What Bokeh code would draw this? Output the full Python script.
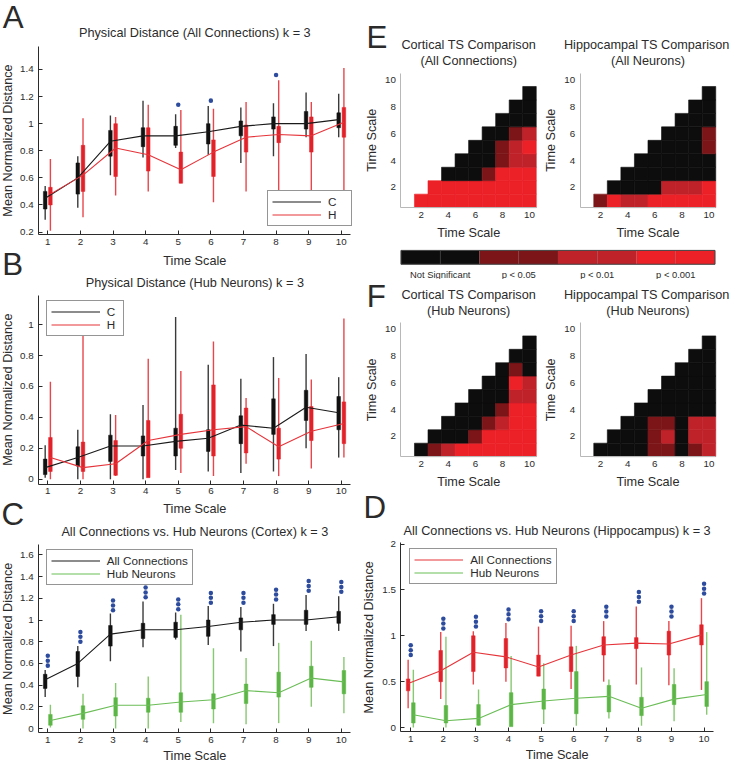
import math
from bokeh.plotting import figure
from bokeh.models import Range1d, FixedTicker, Label, Legend, LegendItem
from bokeh.layouts import row, column
from bokeh.embed import file_html
from bokeh.resources import INLINE
from bokeh.core.properties import value

# ---------------- data ----------------
time_scale = [1, 2, 3, 4, 5, 6, 7, 8, 9, 10]
time_labels = ["1", "2", "3", "4", "5", "6", "7", "8", "9", "10"]

# Physical distance, all connections, cortex (C)
ctx_all_lo = [0.29, 0.38, 0.62, 0.75, 0.82, 0.77, 0.71, 0.76, 0.90, 0.90]
ctx_all_q1 = [0.37, 0.48, 0.76, 0.83, 0.84, 0.85, 0.91, 0.96, 0.96, 0.97]
ctx_all_med = [0.45, 0.60, 0.87, 0.91, 0.91, 0.94, 0.98, 1.00, 1.00, 1.03]
ctx_all_q3 = [0.50, 0.71, 0.95, 0.97, 0.98, 1.00, 1.02, 1.05, 1.09, 1.08]
ctx_all_hi = [0.54, 0.76, 1.06, 1.17, 1.07, 1.13, 1.12, 1.15, 1.23, 1.22]

# Physical distance, all connections, hippocampus (H)
hip_all_lo = [0.21, 0.31, 0.47, 0.50, 0.56, 0.42, 0.50, 0.47, 0.46, 0.41]
hip_all_q1 = [0.40, 0.50, 0.61, 0.65, 0.56, 0.61, 0.79, 0.86, 0.79, 0.90]
hip_all_med = [0.48, 0.62, 0.82, 0.77, 0.66, 0.79, 0.90, 0.92, 0.91, 1.01]
hip_all_q3 = [0.53, 0.84, 1.00, 0.97, 0.79, 0.88, 0.99, 0.98, 1.05, 1.12]
hip_all_hi = [0.74, 1.04, 1.05, 1.14, 1.10, 1.11, 1.16, 1.32, 1.16, 1.41]

# Physical distance, hub neurons, cortex (C)
ctx_hub_lo = [0.01, 0.00, 0.00, 0.00, 0.06, 0.05, 0.04, 0.05, 0.20, 0.14]
ctx_hub_q1 = [0.03, 0.085, 0.115, 0.15, 0.15, 0.18, 0.23, 0.29, 0.38, 0.32]
ctx_hub_med = [0.075, 0.14, 0.215, 0.215, 0.245, 0.265, 0.35, 0.33, 0.465, 0.43]
ctx_hub_q3 = [0.13, 0.21, 0.285, 0.28, 0.33, 0.32, 0.41, 0.52, 0.575, 0.535]
ctx_hub_hi = [0.22, 0.32, 0.42, 0.48, 1.05, 0.74, 0.65, 0.79, 0.81, 0.66]

# Physical distance, hub neurons, hippocampus (H)
hip_hub_lo = [0.00, 0.00, 0.02, 0.02, 0.04, 0.02, 0.10, 0.02, 0.07, 0.14]
hip_hub_q1 = [0.05, 0.05, 0.025, 0.01, 0.20, 0.15, 0.17, 0.13, 0.25, 0.23]
hip_hub_med = [0.14, 0.075, 0.10, 0.25, 0.29, 0.32, 0.34, 0.21, 0.31, 0.36]
hip_hub_q3 = [0.27, 0.24, 0.25, 0.38, 0.42, 0.61, 0.46, 0.33, 0.47, 0.50]
hip_hub_hi = [0.63, 0.99, 0.415, 0.78, 0.70, 0.89, 0.525, 0.655, 0.645, 1.04]

# significance markers
A_sig_x = [5, 6, 8]
A_sig_y = [1.14, 1.17, 1.36]
C_sig_base = [0.58, 0.80, 1.09, 1.21, 1.10, 1.16, 1.16, 1.19, 1.27, 1.26]
D_sig_base = [0.79, 1.08, 1.10, 1.18, 1.16, 1.16, 1.21, 1.37, 1.21, 1.46]

# y ticks
A_yticks = [0.2, 0.4, 0.6, 0.8, 1, 1.2, 1.4]
A_ylabels = ["0.2", "0.4", "0.6", "0.8", "1", "1.2", "1.4"]
B_yticks = [0, 0.2, 0.4, 0.6, 0.8, 1]
B_ylabels = ["0", "0.2", "0.4", "0.6", "0.8", "1"]
C_yticks = [0, 0.2, 0.4, 0.6, 0.8, 1, 1.2, 1.4, 1.6]
C_ylabels = ["0", "0.2", "0.4", "0.6", "0.8", "1", "1.2", "1.4", "1.6"]
D_yticks = [0, 0.5, 1, 1.5, 2]
D_ylabels = ["0", "0.5", "1", "1.5", "2"]
heat_ticks = [2, 4, 6, 8, 10]
heat_labels = ["2", "4", "6", "8", "10"]

# significance levels (0 = n.s., 1 = p<0.05, 2 = p<0.01, 3 = p<0.001)
# one list per column (time scale 2..10), rows = time scale 1..column-1
E_cortical_all = [[3], [3, 3], [3, 3, 0], [3, 3, 0, 0], [3, 3, 0, 0, 0],
                  [3, 3, 1, 0, 0, 0], [3, 3, 3, 1, 1, 0, 0],
                  [3, 3, 3, 2, 2, 1, 0, 0], [3, 3, 3, 2, 3, 2, 0, 0, 0]]
E_hippo_all = [[1], [3, 0], [2, 0, 0], [2, 0, 0, 0], [3, 0, 0, 0, 0],
               [3, 2, 0, 0, 0, 0], [3, 2, 0, 0, 0, 0, 0],
               [3, 2, 0, 0, 0, 0, 0, 0], [3, 3, 0, 0, 1, 1, 0, 0, 0]]
F_cortical_hub = [[0], [1, 0], [2, 0, 0], [3, 0, 0, 0], [3, 1, 0, 0, 0],
                  [3, 3, 1, 0, 0, 0], [3, 3, 2, 1, 0, 0, 0],
                  [3, 3, 3, 3, 2, 3, 1, 0], [3, 3, 3, 3, 2, 2, 0, 0, 0]]
F_hippo_hub = [[0], [0, 0], [0, 0, 0], [0, 0, 0, 0], [1, 1, 1, 0, 0],
               [1, 2, 1, 0, 0, 0], [0, 0, 0, 0, 0, 0, 0],
               [1, 2, 2, 0, 0, 0, 0, 0], [2, 2, 2, 0, 0, 0, 0, 0, 0]]
sig_labels = ["Not Significant", "p < 0.05", "p < 0.01", "p < 0.001"]
sig_colors = ["#0d0d0d", "#7b1518", "#c0222a", "#ec2027"]

# ---------------- style ----------------
s = 0.979
def S(v):
    return v * s
def SI(v):
    return int(round(v * s))
def px(v):
    return "%.1fpx" % S(v)

FONT = "Liberation Sans"
INK = "#2b2b2b"
BLUE = "#2e4c9e"
BLACK_BOX, BLACK_WH, BLACK_LN = "#111111", "#3a3a3a", "#1a1a1a"
RED_BOX, RED_WH, RED_LN = "#e2222a", "#e8464c", "#e5343a"
GRN_BOX, GRN_WH, GRN_LN = "#5cb646", "#86c970", "#6bbd57"
OFF = 0.08
BOX_W = 0.11
LETTER = 32


def make_fig(W, H, frame, xr, yr, axes=True):
    """Canvas W x H (reference px); the plotting area of the reference is
    frame = (left, right, top, bottom) px, spanning data xr / yr.  The Bokeh
    frame fills the whole canvas and the axes are pinned at the data edges."""
    fl, fr, ft, fb = frame
    kx = (xr[1] - xr[0]) / (fr - fl)
    ky = (yr[1] - yr[0]) / (fb - ft)
    x0, x1 = xr[0] - fl * kx, xr[1] + (W - fr) * kx
    y0, y1 = yr[0] - (H - fb) * ky, yr[1] + ft * ky
    kw = dict(width=SI(W), height=SI(H), x_range=Range1d(x0, x1), y_range=Range1d(y0, y1),
              min_border=0, toolbar_location=None, output_backend="svg", title=None)
    if not axes:
        kw.update(x_axis_location=None, y_axis_location=None)
    p = figure(**kw)
    p.outline_line_color = None
    p.background_fill_color = "white"
    p.border_fill_color = "white"
    p.grid.visible = False
    if axes:
        p.xaxis.fixed_location = yr[0]
        p.xaxis.bounds = (min(xr), max(xr))
        p.yaxis.fixed_location = xr[0]
        p.yaxis.bounds = (min(yr), max(yr))
    return p


def txt(p, x, y, t, size, angle=0.0):
    p.add_layout(Label(x=S(x), y=S(y), x_units="canvas", y_units="canvas", text=t,
                       text_font=FONT, text_font_size=px(size), text_color=INK,
                       text_align="center", text_baseline="middle", angle=angle))


def style_axes(p, xticks, xlabels, yticks, ylabels, line_color, tick_in, lsize):
    p.xaxis.ticker = FixedTicker(ticks=xticks)
    p.xaxis.major_label_overrides = dict(zip(xticks, xlabels))
    p.yaxis.ticker = FixedTicker(ticks=yticks)
    p.yaxis.major_label_overrides = dict(zip(yticks, ylabels))
    for ax in list(p.xaxis) + list(p.yaxis):
        ax.axis_line_color = line_color
        ax.axis_line_width = 1
        ax.major_tick_line_color = line_color if tick_in else None
        ax.major_tick_in = tick_in
        ax.major_tick_out = 0
        ax.minor_tick_line_color = None
        ax.major_label_text_font = FONT
        ax.major_label_text_font_size = px(lsize)
        ax.major_label_text_color = INK
    p.xaxis.major_label_standoff = SI(4)
    p.yaxis.major_label_standoff = SI(5)


def boxes(p, lo, q1, q3, hi, off, box_c, wh_c):
    xs = [t + off for t in time_scale]
    p.segment(x0=xs, y0=lo, x1=xs, y1=hi, line_color=wh_c, line_width=1.4)
    p.vbar(x=xs, bottom=q1, top=q3, width=BOX_W, fill_color=box_c, line_color=box_c, line_width=0.5)


def med_line(p, med, off, color):
    xs = [t + off for t in time_scale]
    return p.line(xs, med, line_color=color, line_width=1.1)


def add_legend(p, entries, lw, loc):
    items = [LegendItem(label=value(t), renderers=[r]) for t, r in entries]
    leg = Legend(items=items, location=(S(loc[0]), S(loc[1])), padding=SI(4), spacing=0,
                 glyph_width=SI(50), glyph_height=SI(13), label_height=SI(13),
                 label_width=SI(lw), label_standoff=SI(7), label_text_font=FONT,
                 label_text_font_size=px(12), label_text_color=INK,
                 border_line_color=INK, border_line_width=1,
                 background_fill_color="white", background_fill_alpha=1.0)
    p.add_layout(leg)


def sig_triples(p, base, yr, frame):
    step = 5.0 * (yr[1] - yr[0]) / (frame[3] - frame[2])
    for k in range(3):
        p.scatter(time_scale, [b + k * step for b in base], size=S(4.6),
                  fill_color=BLUE, line_color=None)


BOX_XR = (0.72, 10.29)

# ---------------- panel A ----------------
A_fr, A_yr = (39, 358, 47, 239), (0.180, 1.569)
pA = make_fig(370, 252, A_fr, BOX_XR, A_yr)
style_axes(pA, time_scale, time_labels, A_yticks, A_ylabels, INK, 4, 10)
boxes(pA, ctx_all_lo, ctx_all_q1, ctx_all_q3, ctx_all_hi, -OFF, BLACK_BOX, BLACK_WH)
boxes(pA, hip_all_lo, hip_all_q1, hip_all_q3, hip_all_hi, OFF, RED_BOX, RED_WH)
rA1 = med_line(pA, ctx_all_med, -OFF, BLACK_LN)
rA2 = med_line(pA, hip_all_med, OFF, RED_LN)
pA.scatter(A_sig_x, A_sig_y, size=S(4.6), fill_color=BLUE, line_color=None)
add_legend(pA, [("C", rA1), ("H", rA2)], 19, (272.7, 21.3))
txt(pA, 13, 17.5, "A", LETTER)
txt(pA, 198.5, 33, "Physical Distance (All Connections) k = 3", 13)
txt(pA, 7.5, 143, "Mean Normalized Distance", 13, math.pi / 2)

# ---------------- panel B ----------------
B_fr, B_yr = (39, 358, 48.7, 241.7), (-0.034, 1.19)
pB = make_fig(370, 255, B_fr, BOX_XR, B_yr)
style_axes(pB, time_scale, time_labels, B_yticks, B_ylabels, INK, 4, 10)
boxes(pB, ctx_hub_lo, ctx_hub_q1, ctx_hub_q3, ctx_hub_hi, -OFF, BLACK_BOX, BLACK_WH)
boxes(pB, hip_hub_lo, hip_hub_q1, hip_hub_q3, hip_hub_hi, OFF, RED_BOX, RED_WH)
rB1 = med_line(pB, ctx_hub_med, -OFF, BLACK_LN)
rB2 = med_line(pB, hip_hub_med, OFF, RED_LN)
add_legend(pB, [("C", rB1), ("H", rB2)], 12, (46.7, 164.3))
txt(pB, 198.5, 13.5, "Time Scale", 13)          # x label of panel A
txt(pB, 12.5, 17.5, "B", LETTER)
txt(pB, 198.5, 36.3, "Physical Distance (Hub Neurons) k = 3", 13)
txt(pB, 7.5, 145.2, "Mean Normalized Distance", 13, math.pi / 2)

# ---------------- panel C ----------------
C_fr, C_yr = (39, 358, 48, 240.7), (-0.040, 1.697)
pC = make_fig(370, 272, C_fr, BOX_XR, C_yr)
style_axes(pC, time_scale, time_labels, C_yticks, C_ylabels, INK, 4, 10)
boxes(pC, ctx_all_lo, ctx_all_q1, ctx_all_q3, ctx_all_hi, -OFF, BLACK_BOX, BLACK_WH)
boxes(pC, ctx_hub_lo, ctx_hub_q1, ctx_hub_q3, ctx_hub_hi, OFF, GRN_BOX, GRN_WH)
rC1 = med_line(pC, ctx_all_med, -OFF, BLACK_LN)
rC2 = med_line(pC, ctx_hub_med, OFF, GRN_LN)
sig_triples(pC, C_sig_base, C_yr, C_fr)
add_legend(pC, [("All Connections", rC1), ("Hub Neurons", rC2)], 12, (46.7, 181.7))
txt(pC, 198.5, 11.3, "Time Scale", 13)          # x label of panel B
txt(pC, 12.5, 17.5, "C", LETTER)
txt(pC, 198.5, 35.7, "All Connections vs. Hub Neurons (Cortex) k = 3", 13)
txt(pC, 7.5, 144.3, "Mean Normalized Distance", 13, math.pi / 2)
txt(pC, 198.5, 264, "Time Scale", 13)

# ---------------- heatmaps ----------------
HEAT_R = (0.5, 10.5)

def heat_fig(W, H, frame, levels):
    p = make_fig(W, H, frame, HEAT_R, HEAT_R)
    xs, ys, cs = [], [], []
    for ci, col in enumerate(levels):
        for ri, lev in enumerate(col):
            xs.append(time_scale[ci + 1])
            ys.append(time_scale[ri])
            cs.append(sig_colors[lev])
    p.rect(x=xs, y=ys, width=1, height=1, fill_color=cs, line_color=cs, line_width=0.6)
    style_axes(p, heat_ticks, heat_labels, heat_ticks, heat_labels, "#b8b8b8", 0, 10)
    return p

pEl = heat_fig(185, 252, (39.3, 177.6, 74, 211.3), E_cortical_all)
txt(pEl, 14.7, 38.3, "E", LETTER)
txt(pEl, 108.5, 45.7, "Cortical TS Comparison", 13)
txt(pEl, 108.5, 62.3, "(All Connections)", 13)
txt(pEl, 10, 142.7, "Time Scale", 13, math.pi / 2)
txt(pEl, 108.5, 237.3, "Time Scale", 13)

pEr = heat_fig(192, 252, (37.5, 175.9, 74, 211.3), E_hippo_all)
txt(pEr, 105.5, 45.7, "Hippocampal TS Comparison", 13)
txt(pEr, 106.7, 62.3, "(All Neurons)", 13)
txt(pEr, 8, 142.7, "Time Scale", 13, math.pi / 2)
txt(pEr, 106.7, 237.3, "Time Scale", 13)

# colour bar
pCB = make_fig(377, 33, (0, 377, 0, 33), (-0.98, 8.42), (33, 0), axes=False)
seg_colors = [sig_colors[i // 2] for i in range(8)]
pCB.quad(left=list(range(8)), right=[i + 1 for i in range(8)], top=[3.0] * 8, bottom=[17.3] * 8,
         fill_color=seg_colors, line_color="#555555", line_alpha=0.25, line_width=0.6)
pCB.quad(left=[0], right=[8], top=[3.0], bottom=[17.3], fill_color=None,
         line_color="#444444", line_width=1)
pCB.text(x=[2 * i + 1 for i in range(4)], y=[27.5] * 4, text=sig_labels,
         text_font=value(FONT), text_font_size=px(9.6), text_color=INK,
         text_align="center", text_baseline="middle")

pFl = heat_fig(185, 215, (39.3, 177.6, 44, 181.3), F_cortical_hub)
txt(pFl, 14, 17.5, "F", LETTER)
txt(pFl, 108.5, 15.7, "Cortical TS Comparison", 13)
txt(pFl, 108.5, 32.3, "(Hub Neurons)", 13)
txt(pFl, 10, 112.7, "Time Scale", 13, math.pi / 2)
txt(pFl, 108.5, 207.3, "Time Scale", 13)

pFr = heat_fig(192, 215, (37.5, 175.9, 44, 181.3), F_hippo_hub)
txt(pFr, 105.5, 15.7, "Hippocampal TS Comparison", 13)
txt(pFr, 106.7, 32.3, "(Hub Neurons)", 13)
txt(pFr, 8, 112.7, "Time Scale", 13, math.pi / 2)
txt(pFr, 106.7, 207.3, "Time Scale", 13)

# ---------------- panel D ----------------
D_fr, D_yr = (39.3, 358.3, 54.3, 247.7), (-0.047, 2.015)
pD = make_fig(377, 279, D_fr, (0.70, 10.28), D_yr)
style_axes(pD, time_scale, time_labels, D_yticks, D_ylabels, INK, 4, 10)
boxes(pD, hip_all_lo, hip_all_q1, hip_all_q3, hip_all_hi, -OFF, RED_BOX, RED_WH)
boxes(pD, hip_hub_lo, hip_hub_q1, hip_hub_q3, hip_hub_hi, OFF, GRN_BOX, GRN_WH)
rD1 = med_line(pD, hip_all_med, -OFF, RED_LN)
rD2 = med_line(pD, hip_hub_med, OFF, GRN_LN)
sig_triples(pD, D_sig_base, D_yr, D_fr)
add_legend(pD, [("All Connections", rD1), ("Hub Neurons", rD2)], 12, (48.3, 181.7))
txt(pD, 12.5, 18, "D", LETTER)
txt(pD, 198.8, 42.7, "All Connections vs. Hub Neurons (Hippocampus) k = 3", 13)
txt(pD, 7, 151, "Mean Normalized Distance", 13, math.pi / 2)
txt(pD, 198.8, 271, "Time Scale", 13)

left = column(pA, pB, pC, spacing=0)
right = column(row(pEl, pEr, spacing=0), pCB, row(pFl, pFr, spacing=0), pD, spacing=0)
layout = row(left, right, spacing=0)

open("out.html", "w").write(file_html(layout, INLINE, title="Physical distance"))
